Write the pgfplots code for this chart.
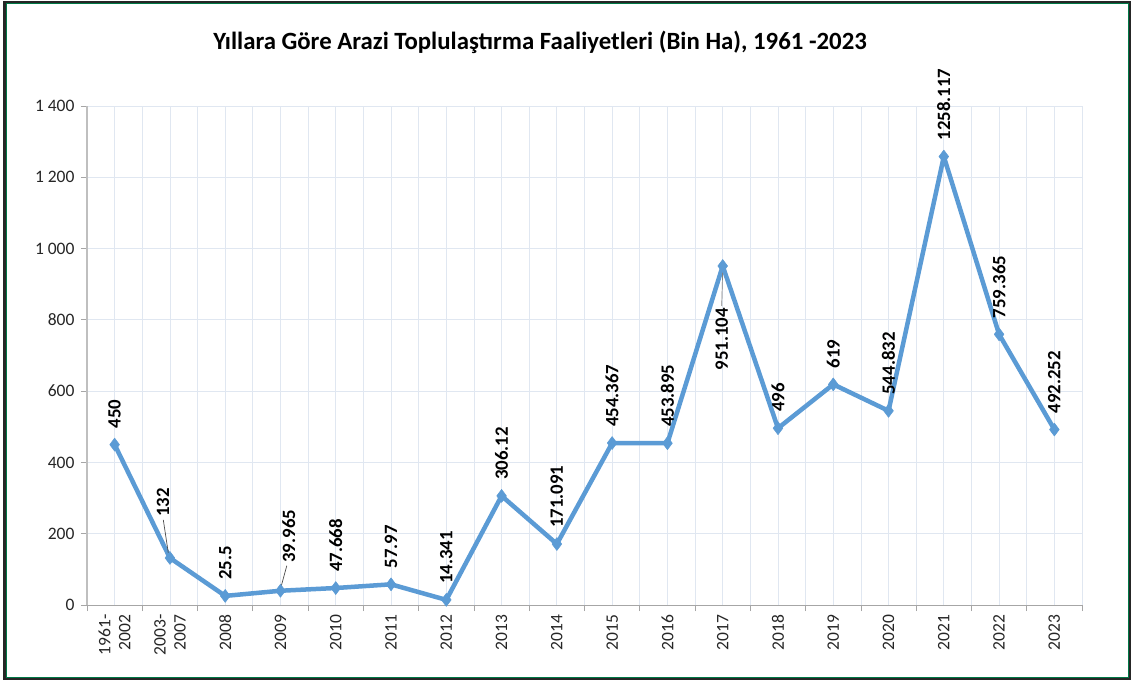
\documentclass[border=0pt]{standalone}
\usepackage{fontspec}
\setmainfont{Carlito}
\usepackage{pgfplots}
\pgfplotsset{compat=1.18}
\usetikzlibrary{calc}
\definecolor{lineblue}{RGB}{91,155,213}
\definecolor{gridc}{RGB}{224,231,241}
\definecolor{framegreen}{RGB}{0,120,70}
\begin{document}
\begin{tikzpicture}
\useasboundingbox (0,0) rectangle (1134pt,682pt);
\fill[white] (0,0) rectangle (1134pt,682pt);
\draw[black!85, line width=2.2pt] (4.5pt,3pt) rectangle (1130pt,680pt);
\draw[framegreen, line width=0.8pt] (6pt,4.5pt) rectangle (1128.5pt,678.5pt);
\node[font=\bfseries\fontsize{24.8}{28}\selectfont] at (540pt,640pt) {Yıllara Göre Arazi Toplulaştırma Faaliyetleri (Bin Ha), 1961 -2023};
\begin{axis}[
  at={(87pt,77pt)}, anchor=south west, scale only axis,
  width=995pt, height=499pt,
  xmin=-0.5, xmax=17.5, ymin=0, ymax=1400,
  axis x line*=bottom, axis y line*=left,
  xtick={0,...,17},
  xticklabels={{1961-\\2002},{2003-\\2007},2008,2009,2010,2011,2012,2013,2014,2015,2016,2017,2018,2019,2020,2021,2022,2023},
  minor xtick={-0.5,0.5,...,17.5},
  ytick={0,200,...,1400},
  grid=both,
  major grid style={draw=gridc, line width=0.8pt},
  minor grid style={draw=gridc, line width=0.8pt},
  tick align=outside,
  major tick length=6pt, minor tick length=6pt,
  every major x tick/.style={draw=none},
  every minor x tick/.style={draw=black!35, line width=0.8pt},
  every major y tick/.style={draw=black!35, line width=0.8pt},
  /pgf/number format/assume math mode=true,
  /pgf/number format/1000 sep={\ },
  tick label style={font=\fontsize{17.5}{20}\selectfont, text=black!85},
  x tick label style={rotate=90, anchor=east, align=right},
  y tick label style={xshift=-3pt},
  axis line style={draw=black!35, line width=0.8pt},
  y axis line style={line width=1.8pt, draw=black!25},
  clip=false,
  nodes near coords, point meta=explicit symbolic,
  every node near coord/.append style={yshift=16pt, rotate=90, anchor=west, inner sep=0pt, font=\bfseries\fontsize{18.8}{20}\selectfont, text=black},
]
\addplot[lineblue, line width=4.5pt, line join=round, mark=diamond*, mark size=6.5pt,
  mark options={fill=lineblue, draw=lineblue, line width=0.5pt}] coordinates {
(0,450) [450]
(1,132) [\phantom{0}]
(2,25.5) [25.5]
(3,39.965) [\phantom{0}]
(4,47.668) [47.668]
(5,57.97) [57.97]
(6,14.341) [14.341]
(7,306.12) [306.12]
(8,171.091) [171.091]
(9,454.367) [454.367]
(10,453.895) [453.895]
(11,951.104) [\phantom{0}]
(12,496) [496]
(13,619) [619]
(14,544.832) [544.832]
(15,1258.117) [1258.117]
(16,759.365) [759.365]
(17,492.252) [492.252]
};
\draw[black!70, line width=0.7pt] ($(axis cs:1,132)+(-6.6pt,38pt)$) -- ($(axis cs:1,132)+(-1.6pt,5pt)$);
\node[rotate=90, anchor=west, inner sep=0pt, font=\bfseries\fontsize{18.8}{20}\selectfont] at ($(axis cs:1,132)+(-7pt,41pt)$) {132};
\draw[black!70, line width=0.7pt] ($(axis cs:3,39.965)+(6.3pt,25pt)$) -- ($(axis cs:3,39.965)+(0.3pt,3pt)$);
\node[rotate=90, anchor=west, inner sep=0pt, font=\bfseries\fontsize{18.8}{20}\selectfont] at ($(axis cs:3,39.965)+(8.3pt,28pt)$) {39.965};
\draw[black!50, line width=0.7pt] ($(axis cs:11,951.104)+(0pt,-3pt)$) -- ($(axis cs:11,951.104)+(-1pt,-40pt)$);
\node[rotate=90, anchor=east, inner sep=0pt, font=\bfseries\fontsize{18.8}{20}\selectfont] at ($(axis cs:11,951.104)+(-1pt,-42pt)$) {951.104};
\end{axis}
\end{tikzpicture}
\end{document}
